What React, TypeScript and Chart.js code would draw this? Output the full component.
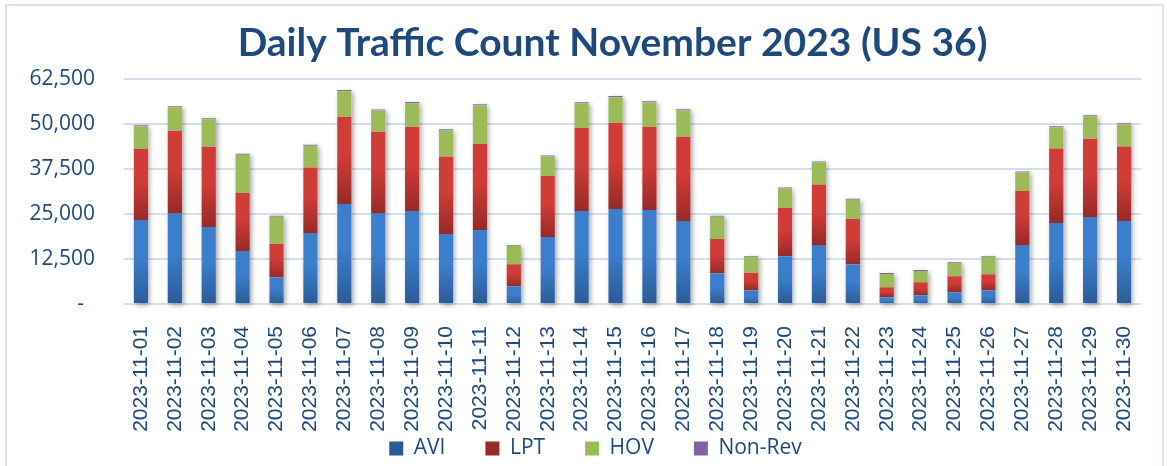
import React, { useEffect, useRef } from "react";
import { Chart, registerables } from "chart.js";

Chart.register(...registerables);

const categories = [
  "2023-11-01", "2023-11-02", "2023-11-03", "2023-11-04", "2023-11-05",
  "2023-11-06", "2023-11-07", "2023-11-08", "2023-11-09", "2023-11-10",
  "2023-11-11", "2023-11-12", "2023-11-13", "2023-11-14", "2023-11-15",
  "2023-11-16", "2023-11-17", "2023-11-18", "2023-11-19", "2023-11-20",
  "2023-11-21", "2023-11-22", "2023-11-23", "2023-11-24", "2023-11-25",
  "2023-11-26", "2023-11-27", "2023-11-28", "2023-11-29", "2023-11-30",
];

const avi = [
  23310, 25260, 21360, 14680, 7440, 19690, 27770, 25260, 25820, 19410,
  20530, 4930, 18580, 25820, 26370, 26090, 23030, 8550, 3820, 13280,
  16350, 11060, 1870, 2420, 3260, 3820, 16350, 22470, 24150, 23030,
];

const lpt = [
  19770, 22840, 22280, 16150, 9190, 18190, 24230, 22560, 23390, 21530,
  23950, 6130, 16980, 23110, 23950, 23120, 23390, 9470, 4810, 13460,
  16790, 12530, 2780, 3620, 4450, 4450, 15040, 20700, 21720, 20690,
];

const hov = [
  6220, 6490, 7600, 10580, 7600, 6040, 7040, 5850, 6490, 7240,
  10660, 5090, 5380, 6770, 7050, 6770, 7330, 6210, 4460, 5290,
  6130, 5370, 3710, 3150, 3710, 4820, 5090, 5850, 6210, 6130,
];

const nonRev = [
  320, 310, 330, 300, 280, 300, 340, 320, 330, 310,
  330, 250, 300, 320, 330, 320, 330, 270, 240, 290,
  300, 280, 220, 220, 240, 250, 300, 320, 330, 320,
];

const yMax = 62500;
const yStep = 12500;

const TEXT = "#1F497D";

const seriesValues = [avi, lpt, hov, nonRev];

function gradientFill(dsIndex: number, topColor: string, bottomColor: string, flat: string) {
  return (ctx: any) => {
    const chart = ctx.chart;
    if (ctx.type !== "data" || !chart.chartArea || !chart.scales || !chart.scales.y) return flat;
    const i = ctx.dataIndex;
    let base = 0;
    for (let d = 0; d < dsIndex; d++) base += seriesValues[d][i];
    const top = base + seriesValues[dsIndex][i];
    const yScale = chart.scales.y;
    const y0 = yScale.getPixelForValue(base);
    const y1 = yScale.getPixelForValue(top);
    if (!isFinite(y0) || !isFinite(y1) || y0 === y1) return flat;
    const g = chart.ctx.createLinearGradient(0, y1, 0, y0);
    g.addColorStop(0, topColor);
    g.addColorStop(0.45, topColor);
    g.addColorStop(1, bottomColor);
    return g;
  };
}

const shadowPlugin = {
  id: "barShadow",
  beforeDatasetsDraw(chart: any) {
    const metas = chart.getSortedVisibleDatasetMetas();
    if (!metas.length) return;
    const ctx = chart.ctx;
    const n = chart.data.labels.length;
    ctx.save();
    ctx.shadowColor = "rgba(0,0,0,0.35)";
    ctx.shadowBlur = 5;
    ctx.shadowOffsetX = 2;
    ctx.shadowOffsetY = 2;
    ctx.fillStyle = "#ffffff";
    for (let j = 0; j < n; j++) {
      const first = metas[0].data[j];
      if (!first) continue;
      let topY = first.y;
      metas.forEach((m: any) => {
        const el = m.data[j];
        if (el && el.y < topY) topY = el.y;
      });
      const w = first.width;
      ctx.fillRect(first.x - w / 2, topY, w, first.base - topY);
    }
    ctx.restore();
  },
};

// Let tick labels extend outside their (deliberately narrow) axis boxes,
// and nudge the legend to sit where the reference has it.
const layoutTweaks = {
  id: "layoutTweaks",
  afterLayout(chart: any) {
    const lg = chart.legend;
    if (lg) {
      lg.left -= 17;
      lg.right -= 17;
      lg.top += 3;
      lg.bottom += 3;
    }
  },
  beforeDraw(chart: any) {
    Object.values(chart.scales).forEach((s: any) => {
      s._computeLabelArea = () => undefined;
    });
  },
};

export default function App() {
  const canvasRef = useRef<HTMLCanvasElement | null>(null);

  useEffect(() => {
    if (!canvasRef.current) return;
    const chart = new Chart(canvasRef.current, {
      type: "bar",
      data: {
        labels: categories,
        datasets: [
          { label: "AVI", data: avi, backgroundColor: gradientFill(0, "#3C7ECB", "#2B5B96", "#3570B8"), borderWidth: 0 },
          { label: "LPT", data: lpt, backgroundColor: gradientFill(1, "#D03C38", "#962A27", "#C03532"), borderWidth: 0 },
          { label: "HOV", data: hov, backgroundColor: "#9BBB59", borderWidth: 0 },
          { label: "Non-Rev", data: nonRev, backgroundColor: "#8064A2", borderWidth: 0 },
        ],
      },
      options: {
        responsive: false,
        animation: false,
        devicePixelRatio: 1,
        layout: { padding: { left: 84, right: 26, top: 0, bottom: 0 } },
        datasets: { bar: { barPercentage: 0.42, categoryPercentage: 1 } },
        plugins: {
          title: {
            display: true,
            text: "Daily Traffic Count November 2023 (US 36)",
            color: TEXT,
            font: { family: "Lato", size: 39, weight: "bold" },
            padding: { top: 20, bottom: 12 },
          },
          legend: {
            position: "bottom",
            labels: {
              color: TEXT,
              font: { family: "'Open Sans'", size: 21 },
              boxWidth: 14,
              boxHeight: 14,
              padding: 40,
            },
          },
          tooltip: { enabled: false },
        },
        scales: {
          x: {
            stacked: true,
            grid: { display: false },
            border: { display: false },
            ticks: {
              color: TEXT,
              font: { family: "'Liberation Sans'", size: 21 },
              maxRotation: 90,
              minRotation: 90,
              padding: 14,
              autoSkip: false,
            },
            afterFit: (scale: any) => { scale.height = 91; },
          },
          y: {
            stacked: true,
            min: 0,
            max: yMax,
            grid: { color: "#D3DFEF", lineWidth: 2, drawTicks: false },
            border: { display: false },
            ticks: {
              stepSize: yStep,
              color: TEXT,
              font: { family: "'Open Sans'", size: 21 },
              padding: 29,
              callback: (v: any) => (Number(v) === 0 ? "-  " : Number(v).toLocaleString("en-US")),
            },
            afterFit: (scale: any) => { scale.width = 40; },
          },
        },
      },
      plugins: [shadowPlugin, layoutTweaks],
    });
    return () => chart.destroy();
  }, []);

  return (
    <div style={{ position: "fixed", left: 0, top: 0, width: 1167, height: 466, background: "#ffffff", overflow: "hidden" }}>
      <canvas ref={canvasRef} width={1167} height={466} style={{ position: "absolute", left: 0, top: 0, width: 1167, height: 466 }} />
      <div style={{ position: "absolute", left: 5, top: 4, width: 1155, height: 480, border: "2px solid #D7E3F3", pointerEvents: "none" }} />
    </div>
  );
}
